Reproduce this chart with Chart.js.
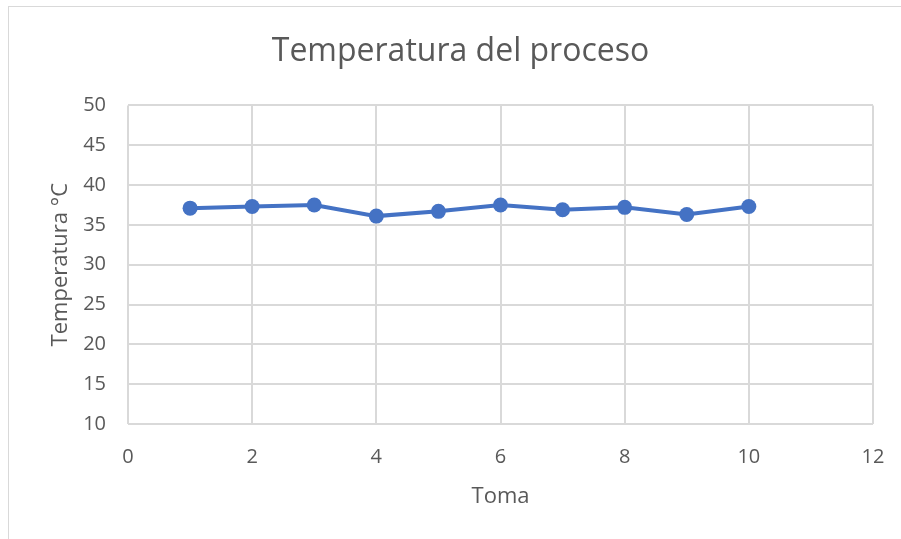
<!DOCTYPE html>
<html lang="es">
<head>
<meta charset="UTF-8">
<title>Temperatura del proceso</title>
<script src="https://cdn.jsdelivr.net/npm/chart.js@4.4.1/dist/chart.umd.min.js"></script>
<style>
    body { margin: 0; background: #ffffff; overflow: hidden; }
    #marco { position: absolute; left: 8px; top: 6px; width: 1000px; height: 700px; border: 1px solid #d9d9d9; }
    #contenedor { position: absolute; left: 0; top: 0; width: 901px; height: 539px; }
</style>
</head>
<body>
<div id="marco"></div>
<div id="contenedor"><canvas id="graficoTemperatura" width="901" height="539"></canvas></div>
<script>
// Datos
const tomas = [1, 2, 3, 4, 5, 6, 7, 8, 9, 10];
const temperaturas = [37.1, 37.3, 37.5, 36.1, 36.7, 37.5, 36.9, 37.2, 36.3, 37.3];
const ticksX = [0, 2, 4, 6, 8, 10, 12];
const ticksY = [10, 15, 20, 25, 30, 35, 40, 45, 50];

const colorTexto = '#595959';
const colorRejilla = '#d9d9d9';
const fuente = "'Open Sans', 'DejaVu Sans', sans-serif";

document.addEventListener('DOMContentLoaded', function () {
    const ctx = document.getElementById('graficoTemperatura').getContext('2d');
    new Chart(ctx, {
        type: 'line',
        data: {
            datasets: [{
                label: 'Temperatura',
                data: tomas.map((t, i) => ({ x: t, y: temperaturas[i] })),
                borderColor: '#4472C4',
                backgroundColor: '#4472C4',
                borderWidth: 4,
                pointRadius: 7.5,
                pointBorderWidth: 0,
                fill: false,
                tension: 0
            }]
        },
        options: {
            responsive: false,
            animation: false,
            layout: {
                padding: { left: 48, right: 28, top: 0, bottom: 25 }
            },
            plugins: {
                legend: { display: false },
                tooltip: { enabled: false },
                title: {
                    display: true,
                    text: 'Temperatura del proceso',
                    color: colorTexto,
                    font: { family: fuente, size: 32, weight: 'normal' },
                    padding: { top: 33, bottom: 34 }
                }
            },
            scales: {
                x: {
                    type: 'linear',
                    min: ticksX[0],
                    max: ticksX[ticksX.length - 1],
                    afterBuildTicks: axis => { axis.ticks = ticksX.map(v => ({ value: v })); },
                    afterFit: axis => { axis.height = 90; },
                    // marcas invisibles para separar las etiquetas sin ensanchar el margen derecho
                    grid: { color: colorRejilla, lineWidth: 2, drawTicks: true, tickLength: 21, tickColor: 'rgba(0,0,0,0)' },
                    border: { display: false },
                    ticks: {
                        color: colorTexto,
                        padding: 0,
                        font: { family: fuente, size: 20 }
                    },
                    title: {
                        display: true,
                        text: 'Toma',
                        color: colorTexto,
                        font: { family: fuente, size: 22 },
                        padding: { top: 0, bottom: 4 }
                    }
                },
                y: {
                    min: ticksY[0],
                    max: ticksY[ticksY.length - 1],
                    afterBuildTicks: axis => { axis.ticks = ticksY.map(v => ({ value: v })); },
                    afterFit: axis => { axis.width = 80; },
                    grid: { color: colorRejilla, lineWidth: 2, drawTicks: false },
                    border: { display: false },
                    ticks: {
                        color: colorTexto,
                        padding: 22,
                        font: { family: fuente, size: 20 }
                    },
                    title: {
                        display: true,
                        text: 'Temperatura °C',
                        color: colorTexto,
                        font: { family: fuente, size: 22 },
                        padding: { top: 0, bottom: 0 }
                    }
                }
            }
        }
    });
});
</script>
</body>
</html>
